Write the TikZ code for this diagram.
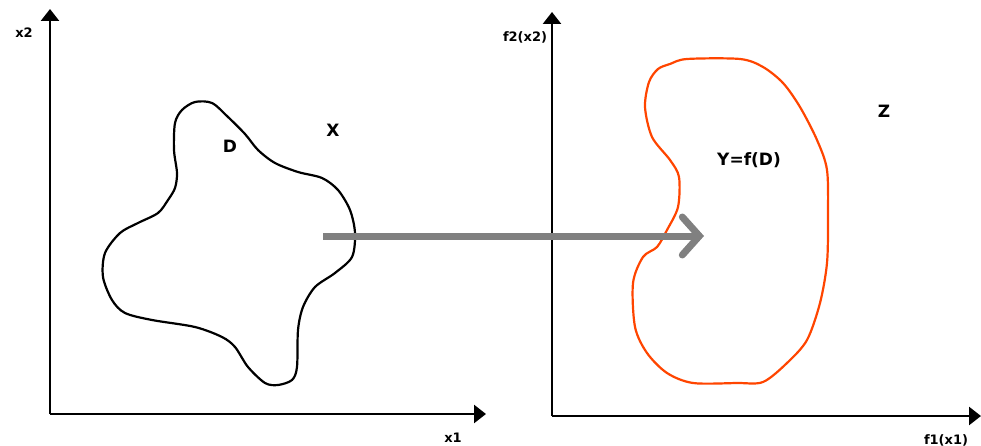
\documentclass[tikz,border=0pt]{standalone}
\usepackage{fontspec}
\setmainfont{DejaVu Sans}
\usepackage{tikz}
\usetikzlibrary{arrows.meta, calc}
\definecolor{setorange}{RGB}{255,69,0}
\definecolor{mapgray}{RGB}{128,128,128}
\tikzset{
    axisline/.style={line width=2.6pt, -{Triangle[length=12pt, width=18pt]}},
    axislbl/.style={font=\bfseries\fontsize{13}{13}\selectfont, inner sep=0pt},
    setlbl/.style={font=\bfseries\fontsize{17}{17}\selectfont, inner sep=0pt},
    domainset/.style={draw=black, line width=2.2pt, line join=round},
    imageset/.style={draw=setorange, line width=2.2pt, line join=round},
    maparrow/.style={draw=mapgray, line width=7pt, -{Straight Barb[length=17pt, width=38pt, line cap=round]}},
}

\begin{document}
\begin{tikzpicture}[x=1pt, y=-1pt]
        \useasboundingbox (0,0) rectangle (981,446);
        % axes
        \coordinate (xo) at (50,414);
        \coordinate (xtop) at (50,9);
        \coordinate (xright) at (486,414);
        \coordinate (zo) at (552,416);
        \coordinate (ztop) at (552,12);
        \coordinate (zright) at (981,416);
        \draw[axisline] (xo) -- (xtop);
        \draw[axisline] (xo) -- (xright);
        \draw[axisline] (zo) -- (ztop);
        \draw[axisline] (zo) -- (zright);
        \node[axislbl] (lx2) at (24,33) {x2};
        \node[axislbl] (lx1) at (453,438) {x1};
        \node[axislbl] (lf2) at (525,37) {f2(x2)};
        \node[axislbl] (lf1) at (946,440) {f1(x1)};
        % set D
        \draw[domainset] plot[smooth cycle, tension=0.5] coordinates {
            (195,102) (212,103) (228,117) (245,134) (258,150) (275,163) (298,172)
            (322,178) (338,190) (350,210) (355,233) (352,257) (335,273) (315,287)
            (303,307) (298,330) (297,367) (292,380) (278,385) (265,383) (248,367)
            (235,347) (222,337) (195,327) (152,320) (125,313) (112,300) (103,277)
            (105,253) (120,233) (138,223) (158,213) (168,200) (175,188) (177,173)
            (174,150) (175,123) (182,110)};
        % set Y
        \draw[imageset] plot[smooth cycle, tension=0.5] coordinates {
            (670,64) (687,59) (740,59) (763,67) (783,83) (800,107) (817,140)
            (827,170) (828,217) (827,263) (820,303) (807,340) (787,363) (763,382)
            (737,383) (693,383) (667,373) (647,353) (635,327) (633,283) (643,257)
            (657,247) (667,230) (678,207) (679,177) (670,160) (652,137) (645,107)
            (649,82) (658,69)};
        \node[setlbl] (lD) at (230,146) {D};
        \node[setlbl] (lX) at (333,130) {X};
        \node[setlbl] (lY) at (749,160) {Y=f(D)};
        \node[setlbl] (lZ) at (884,111) {Z};
        % mapping
        \coordinate (mapstart) at (323,236);
        \coordinate (mapend) at (704,236);
        \draw[maparrow] (mapstart) -- (mapend);
    \end{tikzpicture}
\end{document}
